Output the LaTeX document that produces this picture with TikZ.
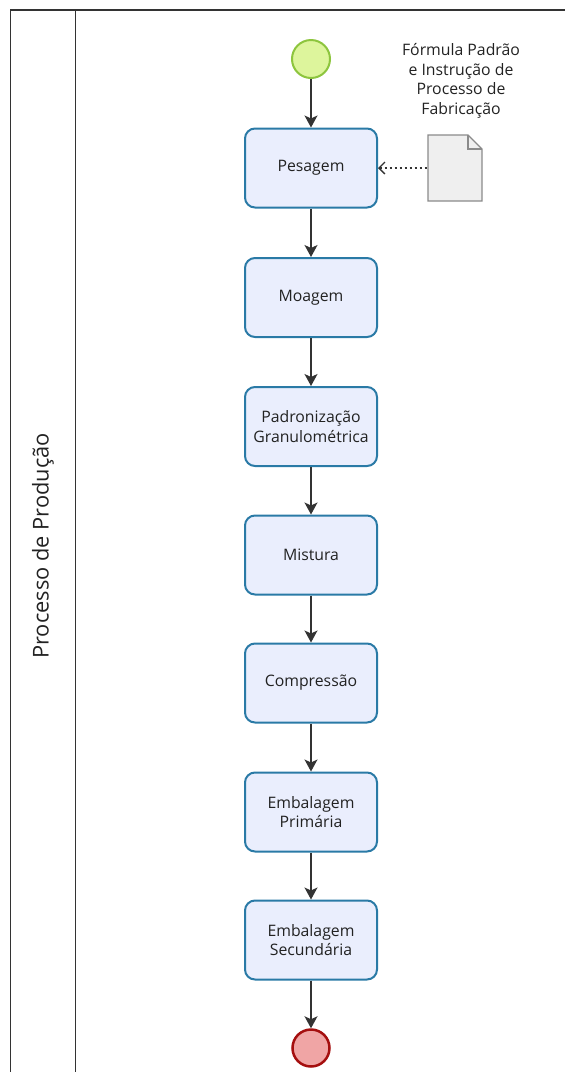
\documentclass[tikz,border=0pt]{standalone}
\usepackage{fontspec}
\setmainfont{Open Sans}
\usetikzlibrary{arrows.meta}
\definecolor{taskfill}{HTML}{EAEEFD}
\definecolor{taskdraw}{HTML}{2A7AA6}
\definecolor{startfill}{HTML}{DDF59C}
\definecolor{startdraw}{HTML}{8DC53E}
\definecolor{endfill}{HTML}{F0A5A5}
\definecolor{enddraw}{HTML}{A50F0F}
\definecolor{docfill}{HTML}{EFEFEF}
\definecolor{docdraw}{HTML}{8A8A8A}
\definecolor{linecol}{HTML}{333333}
\definecolor{txt}{HTML}{222222}
\begin{document}
\begin{tikzpicture}[x=1pt,y=-1pt,
  task/.style={draw=taskdraw,fill=taskfill,line width=2pt,rounded corners=10pt,
    minimum width=132pt,minimum height=79pt,inner sep=0pt,align=center,
    font=\fontsize{15.8}{19.5}\selectfont,text=txt},
  startev/.style={circle,draw=startdraw,fill=startfill,line width=2pt,minimum size=38pt,inner sep=0pt},
  endev/.style={circle,draw=enddraw,fill=endfill,line width=2.5pt,minimum size=37pt,inner sep=0pt},
  flow/.style={draw=linecol,line width=1.3pt,-{Stealth[length=12pt,width=13pt,inset=3pt]}},
  assoc/.style={draw=linecol,line width=1.3pt,dash pattern=on 2pt off 3pt,{Straight Barb[length=6pt,width=12pt]}-},
  pool/.style={draw=linecol,line width=1.5pt}]
\useasboundingbox (0,0) rectangle (565,1072);
% pool
\draw[pool] (10.5,1080) -- (10.5,10) -- (575,10);
\draw[pool] (75.5,10) -- (75.5,1080);
\node[rotate=90,font=\fontsize{21.8}{26}\selectfont,text=txt] (lane) at (43,546) {Processo de Produção};
% events
\node[startev] (start) at (311,59) {};
\node[endev] (end) at (311,1048) {};
% tasks
\node[task] (t1) at (311,168) {Pesagem};
\node[task] (t2) at (311,297.5) {Moagem};
\node[task] (t3) at (311,426.5) {Padronização\\Granulométrica};
\node[task] (t4) at (311,555) {Mistura};
\node[task] (t5) at (311,683) {Compressão};
\node[task] (t6) at (311,812) {Embalagem\\Primária};
\node[task] (t7) at (311,940) {Embalagem\\Secundária};
% document
\draw[draw=docdraw,fill=docfill,line width=1.2pt] (428,135) -- (468,135) -- (482,149) -- (482,201) -- (428,201) -- cycle;
\draw[draw=docdraw,line width=1.2pt] (468,135) -- (468,149) -- (482,149);
\coordinate (docw) at (428,168);
\node[align=center,font=\fontsize{15.8}{19.5}\selectfont,text=txt] (doclabel) at (461,81) {Fórmula Padrão\\e Instrução de\\Processo de\\Fabricação};
% flows
\draw[flow] (start) -- (t1);
\draw[flow] (t1) -- (t2);
\draw[flow] (t2) -- (t3);
\draw[flow] (t3) -- (t4);
\draw[flow] (t4) -- (t5);
\draw[flow] (t5) -- (t6);
\draw[flow] (t6) -- (t7);
\draw[flow] (t7) -- (end);
\draw[assoc] (t1.east) -- (docw);
\end{tikzpicture}
\end{document}
